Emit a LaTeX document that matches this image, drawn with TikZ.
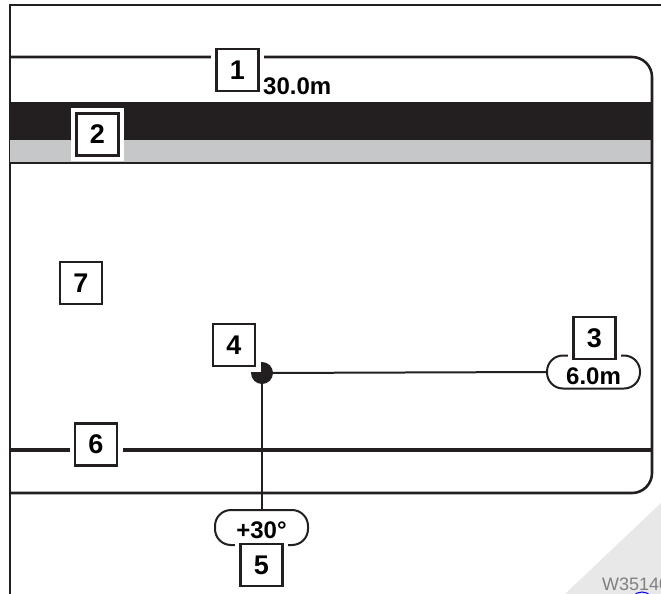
\documentclass[tikz,border=0pt]{standalone}
\usepackage{fontspec}
\setmainfont{Liberation Sans}
\usetikzlibrary{positioning}
\definecolor{ink}{HTML}{231F20}
\definecolor{bandgray}{HTML}{C6C7C9}
\definecolor{cornergray}{HTML}{E8E8E9}
\tikzset{
  numbox/.style={
    draw=ink, fill=white, line width=2.6pt, inner sep=0pt,
    minimum width=42pt, minimum height=42pt,
    font=\fontsize{27}{30}\selectfont\bfseries,
    preaction={draw=white, line width=11pt}
  },
  tag/.style={
    draw=ink, fill=white, line width=2pt, rounded corners=16pt, inner sep=0pt,
    minimum width=93pt, minimum height=33pt, text depth=0pt,
    font=\fontsize{24}{26}\selectfont\bfseries
  },
  lbl/.style={inner sep=0pt, font=\fontsize{24}{26}\selectfont\bfseries},
  dot/.style={circle, fill=ink, inner sep=0pt, minimum size=22pt},
  wire/.style={draw=ink, line width=2pt},
}

\begin{document}
\begin{tikzpicture}[x=1pt, y=-1pt]
  \useasboundingbox (0,0) rectangle (661,594);
  % corner mark
  \fill[cornergray] (661,503) -- (565,594) -- (661,594) -- cycle;
  \draw[blue, line width=1pt] (642,604) circle (12);
  \node[anchor=base west, inner sep=0pt, text=gray,
    font=\fontsize{18}{20}\selectfont] (wcode) at (602,590) {W35140};
  % outer frame
  \draw[ink, line width=2.6pt] (10,594) -- (10,5) -- (661,5);
  % bands
  \fill[ink] (10,102) rectangle (652,140);
  \fill[bandgray] (10,140) rectangle (652,162);
  \draw[ink, line width=2pt] (10,163) -- (652,163);
  \draw[ink, line width=4pt] (10,450) -- (652,450);
  % display
  \draw[ink, line width=2.6pt, rounded corners=20pt]
    (10,57) -- (652,57) -- (652,493) -- (10,493);
  % pivot and tags
  \node[tag, text height=25pt] (tag3) at (593.5,372) {6.0m};
  \node[tag, text height=21pt, minimum height=35pt] (tag5) at (261.5,527.5) {+30°};
  \node[dot] (pivot) at (262,373) {};
  \draw[wire] (pivot.center) -- (tag3.west);
  \draw[wire] (pivot.center) -- (pivot.center |- tag5.north);
  % numbers
  \node[numbox] (box1) at (237.5,70) {1};
  \node[lbl, anchor=base west] (boomlen) at (263,94) {30.0m};
  \node[numbox] (box2) at (97.5,134.5) {2};
  \node[numbox] (box3) at (594.5,338) {3};
  \node[numbox] (box4) at (234,345) {4};
  \node[numbox] (box5) at (261.5,565) {5};
  \node[numbox] (box6) at (96,444.5) {6};
  \node[numbox] (box7) at (81,283) {7};
\end{tikzpicture}
\end{document}
